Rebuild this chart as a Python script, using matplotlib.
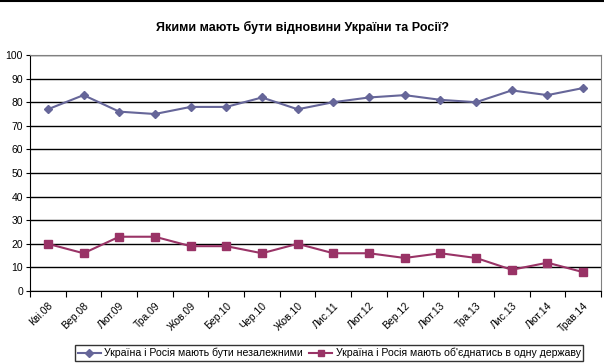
import numpy as np
import matplotlib
matplotlib.use("Agg")
from matplotlib import pyplot as plt
from matplotlib.ticker import FixedLocator

plt.rcParams['font.family'] = ['Liberation Sans', 'DejaVu Sans']

labels = ['Кві.08', 'Вер.08', 'Лют.09', 'Тра.09', 'Жов.09', 'Бер.10', 'Чер.10', 'Жов.10',
          'Лис.11', 'Лют.12', 'Вер.12', 'Лют.13', 'Тра.13', 'Лис.13', 'Лют.14', 'Трав.14']
independent = [77, 83, 76, 75, 78, 78, 82, 77, 80, 82, 83, 81, 80, 85, 83, 86]
united = [20, 16, 23, 23, 19, 19, 16, 20, 16, 16, 14, 16, 14, 9, 12, 8]

name1 = 'Україна і Росія мають бути незалежними'
name2 = "Україна і Росія мають об'єднатись в одну державу"

fig = plt.figure(figsize=(6.04, 3.63), dpi=100)
ax = fig.add_axes([0.0497, 0.1983, 0.9453, 0.6502])

x = np.arange(len(labels))
ax.plot(x, independent, color='#666699', marker='D', markersize=4.5, linewidth=1.5, label=name1)
ax.plot(x, united, color='#993366', marker='s', markersize=5.5, linewidth=1.5, label=name2)

ax.set_xlim(-0.5, len(labels) - 0.5)
ax.set_ylim(0, 100)
ax.set_yticks(range(0, 101, 10))
ax.yaxis.grid(True, color='black', linewidth=1)
ax.set_axisbelow(True)
ax.tick_params(axis='y', labelsize=7.5, length=3, width=0.8, pad=2)

ax.set_xticks(x)
ax.set_xticklabels(labels, rotation=45, ha='right', rotation_mode='anchor', fontsize=7.5)
ax.xaxis.set_minor_locator(FixedLocator(np.arange(-0.5, len(labels), 1.0)))
ax.tick_params(axis='x', which='major', length=0, pad=7)
ax.tick_params(axis='x', which='minor', length=4, width=0.8)

for s in ['top', 'right']:
    ax.spines[s].set_color('#808080')
for s in ['left', 'bottom']:
    ax.spines[s].set_color('black')

fig.text(0.5, 0.925, 'Якими мають бути відновини України та Росії?', ha='center', va='center',
         fontsize=9, fontweight='bold')

fig.legend(loc='center', bbox_to_anchor=(0.545, 0.0275), ncol=2, fontsize=7.6, frameon=True,
           fancybox=False, edgecolor='black', handlelength=2.2, columnspacing=0.6,
           handletextpad=0.3, borderpad=0.25, markerscale=0.8)

fig.add_artist(plt.Line2D([0, 1], [0.998, 0.998], color='black', linewidth=1.5, transform=fig.transFigure))

fig.savefig('out.png', dpi=100)
